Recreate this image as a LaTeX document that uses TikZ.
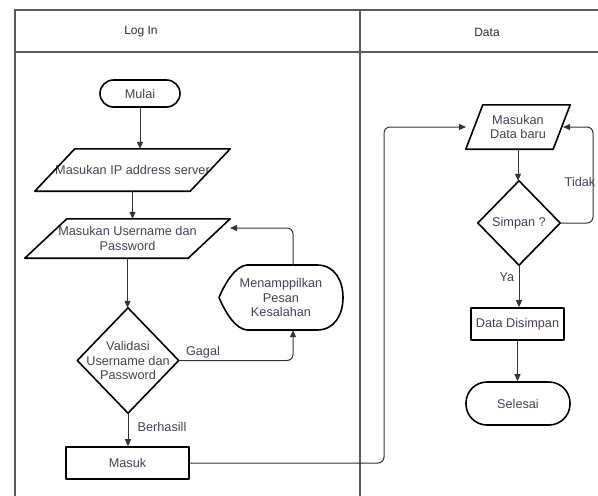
\documentclass[tikz,border=0pt]{standalone}
\usepackage{fontspec}
\setmainfont{Liberation Sans}
\usetikzlibrary{arrows.meta}
\definecolor{txtc}{HTML}{4B3F55}
\definecolor{conc}{HTML}{333333}
\definecolor{framec}{HTML}{5A5A5A}
\definecolor{hdrc}{HTML}{2E2E2E}
\begin{document}
\begin{tikzpicture}[x=1pt,y=-1pt,
  txt/.style={text=txtc, font=\fontsize{12.7}{14.5}\selectfont, align=center, inner sep=0pt},
  hdr/.style={text=hdrc, font=\fontsize{12}{14}\selectfont, inner sep=0pt},
  shp/.style={draw=black, line width=1.6pt, line join=round},
  con/.style={draw=conc, line width=1pt, rounded corners=6pt},
  arr/.style={con, -{Triangle[length=7pt,width=6pt]}},
  lbl/.style={text=txtc, font=\fontsize{12.7}{14.5}\selectfont, inner sep=0pt},
  frame/.style={draw=framec, line width=1.4pt}]
\useasboundingbox (0,0) rectangle (598,496);
\clip (0,0) rectangle (598,496);
\fill[white] (0,0) rectangle (598,496);
% frame
\draw[frame] (15,497) -- (15,10) -- (600,10);
\draw[frame] (15,52) -- (600,52);
\draw[frame] (360,10) -- (360,497);
\node[hdr] (hlog) at (141,32) {Log In};
\node[hdr] (hdata) at (487,32) {Data};
% Log In lane
\node[txt, shp, rounded corners=13.5pt, minimum width=80pt, minimum height=27pt] (mulai) at (140,93.5) {Mulai};
\node[txt, minimum width=195pt, minimum height=42pt] (ip) at (132.5,170) {Masukan IP address server};
\draw[shp] (ip.south west) -- ([xshift=40pt]ip.north west) -- (ip.north east) -- ([xshift=-40pt]ip.south east) -- cycle;
\node[txt, minimum width=205pt, minimum height=39pt] (user) at (127.5,238.5) {Masukan Username dan\\Password};
\draw[shp] (user.south west) -- ([xshift=42pt]user.north west) -- (user.north east) -- ([xshift=-42pt]user.south east) -- cycle;
\node[txt, minimum width=101pt, minimum height=105pt] (valid) at (128,360.5) {Validasi\\Username dan\\Password};
\draw[shp] (valid.north) -- (valid.east) -- (valid.south) -- (valid.west) -- cycle;
\node[txt, minimum width=124pt, minimum height=65pt] (disp) at (281,297.5) {Menamppilkan\\Pesan\\Kesalahan};
\draw[shp] (219,297.5) .. controls (226,281) and (236,266) .. (247,265) -- (317,265)
  .. controls (335,265) and (343,281) .. (343,297.5)
  .. controls (343,314) and (335,330) .. (317,330) -- (247,330)
  .. controls (236,329) and (226,314) .. (219,297.5) -- cycle;
\node[txt, shp, minimum width=123pt, minimum height=32pt] (masuk) at (127.5,463) {Masuk};
% Data lane
\node[txt, minimum width=104pt, minimum height=44pt] (dbaru) at (518,127) {Masukan\\Data baru};
\draw[shp] (dbaru.south west) -- ([xshift=17pt]dbaru.north west) -- (dbaru.north east) -- ([xshift=-17pt]dbaru.south east) -- cycle;
\node[txt, minimum width=82pt, minimum height=84pt] (simpan) at (519,223) {Simpan ?};
\draw[shp] (simpan.north) -- (simpan.east) -- (simpan.south) -- (simpan.west) -- cycle;
\node[txt, shp, minimum width=93pt, minimum height=32pt] (disimpan) at (517.5,324) {Data Disimpan};
\node[txt, shp, rounded corners=21pt, minimum width=104pt, minimum height=43pt] (selesai) at (518,403.5) {Selesai};
% connectors
\coordinate (userin) at (230,228);
\coordinate (dbin) at (466,127);
\coordinate (mturn) at (384,300);
\coordinate (tturn) at (593,180);
\coordinate (dbout) at (563,127);
\draw[arr] (mulai.south) -- (mulai.south |- ip.north);
\draw[arr] (ip.south) -- (ip.south |- user.north);
\draw[arr] (user.south) -- (user.south |- valid.north);
\draw[arr] (valid.east) -| ([xshift=12pt]disp.south);
\draw[arr] ([xshift=12pt]disp.north) |- (userin);
\draw[arr] (valid.south) -- (valid.south |- masuk.north);
\draw[arr] (masuk.east) -| (mturn) |- (dbin);
\draw[arr] (dbaru.south) -- (dbaru.south |- simpan.north);
\draw[arr] (simpan.east) -| (tturn) |- (dbout);
\draw[arr] (simpan.south) -- (simpan.south |- disimpan.north);
\draw[arr] (disimpan.south) -- (disimpan.south |- selesai.north);
% labels
\node[lbl] (gagal) at (203,352) {Gagal};
\node[lbl] (berhasil) at (162,427) {Berhasill};
\node[lbl] (tidak) at (580,182) {Tidak};
\node[lbl] (ya) at (507,277) {Ya};
\end{tikzpicture}
\end{document}
